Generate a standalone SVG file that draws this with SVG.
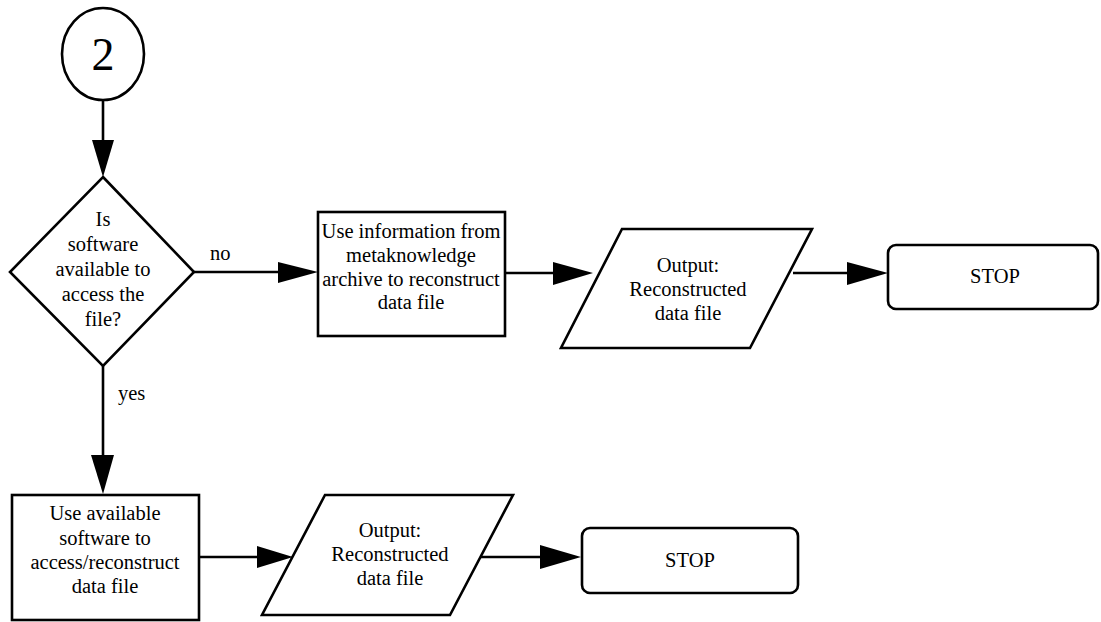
<svg xmlns="http://www.w3.org/2000/svg" width="1101" height="622" viewBox="0 0 1101 622">
<style>
.s{fill:#fff;stroke:#000;stroke-width:2.6}
.t{font-family:"Liberation Serif","Times New Roman",serif;font-size:20.5px;fill:#000;text-anchor:middle}
.l{font-family:"Liberation Serif","Times New Roman",serif;font-size:20.5px;fill:#000}
.c{stroke:#000;stroke-width:2.6;fill:none}
.h{fill:#000}
</style>
<rect width="1101" height="622" fill="#fff"/>
<g id="connectors">
<line class="c" x1="103" y1="100" x2="103" y2="145"/>
<polygon class="h" points="92,140 114,140 103,177"/>
<line class="c" x1="194" y1="272" x2="282" y2="272"/>
<polygon class="h" points="278,262 278,283 318,272"/>
<text class="l" x="210" y="260">no</text>
<line class="c" x1="505" y1="273" x2="557" y2="273"/>
<polygon class="h" points="553,262 553,285 593,273"/>
<line class="c" x1="793" y1="273" x2="851" y2="273"/>
<polygon class="h" points="847,262 847,285 888,273"/>
<line class="c" x1="103" y1="366" x2="103" y2="460"/>
<polygon class="h" points="91,455 114,455 103,494"/>
<text class="l" x="118" y="400">yes</text>
<line class="c" x1="199" y1="557" x2="261" y2="557"/>
<polygon class="h" points="257,546 257,568 293,557"/>
<line class="c" x1="480" y1="557" x2="544" y2="557"/>
<polygon class="h" points="540,545 540,569 581,557"/>
</g>
<g id="start">
<ellipse class="s" cx="103" cy="54" rx="41" ry="46"/>
<text class="t" x="103" y="70" style="font-size:46px">2</text>
</g>
<g id="decision">
<polygon class="s" points="103,177 194,272 103,366 10,272"/>
<text class="t" x="103" y="226">Is</text>
<text class="t" x="103" y="251">software</text>
<text class="t" x="103" y="276">available to</text>
<text class="t" x="103" y="301">access the</text>
<text class="t" x="103" y="326">file?</text>
</g>
<g id="reconstruct-meta">
<rect class="s" x="318" y="212" width="187" height="124"/>
<text class="t" x="411" y="238">Use information from</text>
<text class="t" x="411" y="262">metaknowledge</text>
<text class="t" x="411" y="286">archive to reconstruct</text>
<text class="t" x="411" y="309">data file</text>
</g>
<g id="output1">
<polygon class="s" points="622,229 812,229 750,348 561,348"/>
<text class="t" x="688" y="272">Output:</text>
<text class="t" x="688" y="296">Reconstructed</text>
<text class="t" x="688" y="320">data file</text>
</g>
<g id="stop1">
<rect class="s" x="888" y="245" width="210" height="64" rx="8"/>
<text class="t" x="995" y="283">STOP</text>
</g>
<g id="use-software">
<rect class="s" x="12" y="495" width="187" height="125"/>
<text class="t" x="105" y="520">Use available</text>
<text class="t" x="105" y="545">software to</text>
<text class="t" x="105" y="569">access/reconstruct</text>
<text class="t" x="105" y="593">data file</text>
</g>
<g id="output2">
<polygon class="s" points="325,495 513,495 450,615 262,615"/>
<text class="t" x="390" y="537">Output:</text>
<text class="t" x="390" y="561">Reconstructed</text>
<text class="t" x="390" y="585">data file</text>
</g>
<g id="stop2">
<rect class="s" x="582" y="528" width="216" height="65" rx="8"/>
<text class="t" x="690" y="567">STOP</text>
</g>
</svg>
